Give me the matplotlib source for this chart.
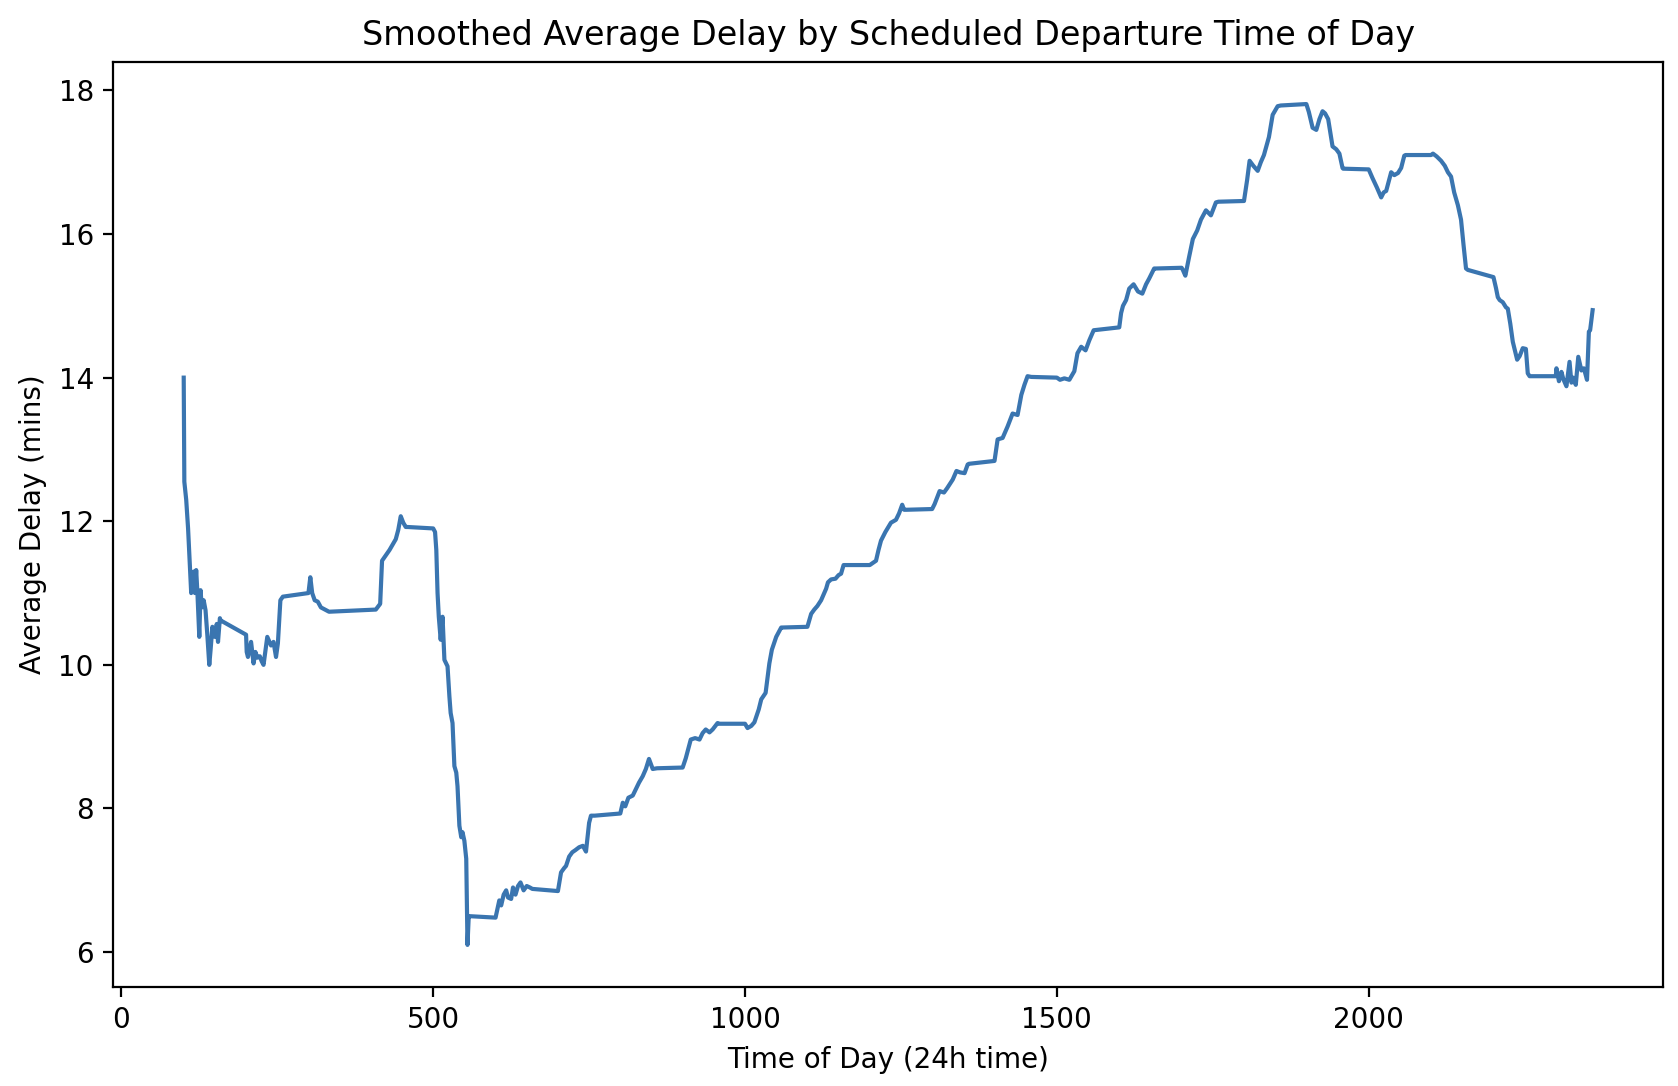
import matplotlib
matplotlib.use("Agg")
import matplotlib.pyplot as plt

# Scheduled departure time (HHMM) and rolling average delay (mins)
dep_time = [
    100, 101, 104, 107, 110, 112, 114, 116, 118, 120, 122, 125, 127, 129, 132, 135, 138, 141, 143, 146,
    150, 153, 155, 158, 159,
    200, 201, 203, 208, 212, 215, 218, 222, 225, 228, 231, 234, 240, 244, 248, 251, 255, 259,
    300, 303, 306, 310, 315, 320, 333,
    408, 415, 418, 430, 440, 444, 448, 452, 456, 459,
    500, 503, 505, 507, 509, 512, 515, 518, 523, 526, 528, 531, 534, 537, 539, 542, 545, 547, 550,
    553, 555, 557, 559,
    600, 603, 606, 609, 613, 617, 620, 625, 628, 632, 636, 640, 645, 650, 655, 659,
    700, 705, 710, 713, 718, 723, 728, 734, 740, 745, 750, 753, 759,
    800, 804, 808, 813, 820, 825, 830, 836, 841, 846, 852, 859,
    900, 905, 913, 920, 927, 932, 937, 943, 948, 956, 959,
    1000, 1004, 1010, 1015, 1022, 1026, 1033, 1039, 1043, 1050, 1058, 1059,
    1100, 1106, 1111, 1116, 1122, 1130, 1133, 1138, 1145, 1150, 1154, 1158, 1159,
    1200, 1205, 1210, 1214, 1218, 1225, 1234, 1242, 1247, 1252, 1255, 1259,
    1300, 1304, 1308, 1312, 1319, 1324, 1333, 1339, 1345, 1352, 1357, 1359,
    1400, 1405, 1413, 1421, 1429, 1437, 1443, 1448, 1453, 1459,
    1500, 1505, 1512, 1520, 1528, 1533, 1539, 1546, 1552, 1559,
    1600, 1603, 1606, 1611, 1616, 1623, 1630, 1637, 1643, 1648, 1656, 1659,
    1700, 1702, 1706, 1712, 1718, 1725, 1731, 1739, 1747, 1755, 1759,
    1800, 1805, 1809, 1815, 1822, 1827, 1832, 1840, 1846, 1854, 1859,
    1900, 1904, 1910, 1916, 1921, 1926, 1930, 1935, 1942, 1948, 1953, 1958, 1959,
    2000, 2006, 2013, 2020, 2024, 2028, 2036, 2041, 2047, 2052, 2057, 2059,
    2100, 2103, 2109, 2116, 2122, 2127, 2132, 2137, 2143, 2148, 2152, 2156, 2159,
    2200, 2204, 2207, 2210, 2215, 2220, 2223, 2227, 2231, 2236, 2238, 2242, 2247, 2252, 2255, 2258, 2259,
    2300, 2301, 2305, 2309, 2312, 2317, 2322, 2325, 2328, 2332, 2336, 2341, 2345, 2350, 2353, 2355, 2359,
]
avg_delay = [
    14.0, 12.55, 12.3, 11.9, 11.35, 11.0, 11.1, 11.3, 11.0, 11.32, 11.0, 10.39, 11.04, 10.8, 10.9, 10.76, 10.4, 10.0, 10.2, 10.53,
    10.39, 10.57, 10.32, 10.65, 10.62,
    10.42, 10.18, 10.11, 10.32, 10.02, 10.18, 10.1, 10.12, 10.05, 10.0, 10.2, 10.39, 10.27, 10.32, 10.11, 10.3, 10.9, 10.95,
    11.0, 11.22, 11.0, 10.9, 10.88, 10.8, 10.74,
    10.77, 10.85, 11.45, 11.6, 11.75, 11.88, 12.07, 11.98, 11.92, 11.92,
    11.9, 11.85, 11.6, 11.0, 10.67, 10.35, 10.67, 10.07, 9.98, 9.56, 9.33, 9.19, 8.59, 8.5, 8.31, 7.76, 7.6, 7.67, 7.55,
    7.3, 6.1, 6.5, 6.5,
    6.48, 6.6, 6.72, 6.65, 6.8, 6.86, 6.76, 6.74, 6.9, 6.8, 6.92, 6.97, 6.86, 6.92, 6.9, 6.88,
    6.85, 7.11, 7.17, 7.2, 7.33, 7.39, 7.42, 7.46, 7.48, 7.4, 7.8, 7.9, 7.9,
    7.93, 8.08, 8.03, 8.15, 8.18, 8.27, 8.36, 8.45, 8.55, 8.69, 8.55, 8.56,
    8.57, 8.7, 8.96, 8.98, 8.96, 9.05, 9.1, 9.06, 9.1, 9.19, 9.18,
    9.18, 9.12, 9.15, 9.2, 9.38, 9.52, 9.61, 10.02, 10.21, 10.39, 10.52, 10.52,
    10.53, 10.71, 10.77, 10.82, 10.9, 11.06, 11.15, 11.19, 11.2, 11.25, 11.27, 11.39, 11.39,
    11.39, 11.42, 11.45, 11.6, 11.73, 11.85, 11.98, 12.02, 12.11, 12.23, 12.16, 12.16,
    12.17, 12.24, 12.33, 12.42, 12.4, 12.46, 12.58, 12.7, 12.68, 12.67, 12.79, 12.8,
    12.84, 13.14, 13.16, 13.32, 13.5, 13.48, 13.76, 13.9, 14.02, 14.01,
    14.0, 13.97, 13.99, 13.97, 14.09, 14.34, 14.43, 14.38, 14.52, 14.66,
    14.7, 14.9, 15.0, 15.08, 15.24, 15.3, 15.2, 15.17, 15.3, 15.38, 15.52, 15.52,
    15.53, 15.5, 15.42, 15.68, 15.93, 16.05, 16.2, 16.33, 16.26, 16.44, 16.45,
    16.46, 16.75, 17.02, 16.95, 16.88, 17.0, 17.1, 17.35, 17.66, 17.78, 17.79,
    17.81, 17.7, 17.48, 17.45, 17.6, 17.71, 17.68, 17.6, 17.22, 17.18, 17.12, 16.92, 16.91,
    16.9, 16.78, 16.65, 16.51, 16.58, 16.6, 16.86, 16.82, 16.85, 16.92, 17.09, 17.1,
    17.1, 17.12, 17.08, 17.02, 16.95, 16.86, 16.8, 16.58, 16.4, 16.2, 15.85, 15.52, 15.5,
    15.4, 15.25, 15.12, 15.08, 15.05, 14.98, 14.96, 14.75, 14.5, 14.32, 14.25, 14.3, 14.41, 14.4, 14.06, 14.02, 14.02,
    14.02, 14.13, 13.95, 14.08, 13.98, 13.88, 14.22, 13.93, 14.0, 13.9, 14.29, 14.1, 14.13, 13.97, 14.64, 14.66, 14.94,
]

fig = plt.figure(figsize=(8.39, 5.43), dpi=200)
ax = fig.add_axes([0.0675, 0.0912, 0.9236, 0.8517])

ax.plot(dep_time, avg_delay, color='#3a75b0', linewidth=1.5)

ax.set_title("Smoothed Average Delay by Scheduled Departure Time of Day", fontsize=12)
ax.set_xlabel("Time of Day (24h time)")
ax.set_ylabel("Average Delay (mins)")
ax.set_xticks([0, 500, 1000, 1500, 2000])
ax.set_yticks([6, 8, 10, 12, 14, 16, 18])

fig.savefig("out.png", dpi=200)
